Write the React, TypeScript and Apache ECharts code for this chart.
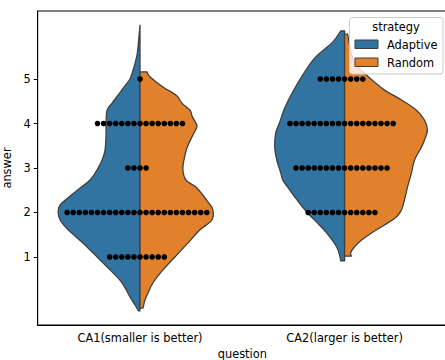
import React, { useEffect, useRef } from 'react';
import * as echarts from 'echarts';

// ---- data ----
const questions = ['CA1(smaller is better)', 'CA2(larger is better)'];
const strategies = ['Adaptive', 'Random'];
const answerTicks = [1, 2, 3, 4, 5];
// number of swarm points per answer level (1..5) for each question
const ca1Counts = [10, 24, 4, 15, 1];
const ca2Counts = [0, 12, 16, 18, 8];

// violin half profiles: [answer value, relative density (max ~1)]
const ca1Adaptive = [
  [6.21, 0], [5.88, 0.016], [5.58, 0.033], [5.38, 0.057], [5.2, 0.085], [5.0, 0.122],
  [4.82, 0.195], [4.64, 0.268], [4.46, 0.341], [4.3, 0.402], [4.01, 0.415], [3.74, 0.415],
  [3.4, 0.427], [3.18, 0.463], [2.96, 0.524], [2.73, 0.61], [2.55, 0.732], [2.33, 0.878],
  [2.17, 0.976], [2.01, 1.0], [1.83, 0.976], [1.61, 0.878], [1.31, 0.695], [1.0, 0.524],
  [0.71, 0.366], [0.42, 0.22], [0.1, 0.122], [-0.08, 0.061], [-0.21, 0.02],
];
const ca1Random = [
  [5.16, 0.085], [5.05, 0.122], [4.82, 0.28], [4.64, 0.44], [4.46, 0.512], [4.3, 0.61],
  [4.15, 0.64], [4.01, 0.683], [3.92, 0.695], [3.74, 0.646], [3.45, 0.573], [3.18, 0.537],
  [2.96, 0.524], [2.73, 0.561], [2.55, 0.695], [2.24, 0.829], [2.06, 0.89], [1.83, 0.878],
  [1.61, 0.732], [1.31, 0.585], [1.0, 0.427], [0.71, 0.28], [0.42, 0.159], [0.19, 0.098],
  [0.03, 0.061], [-0.15, 0.037],
];
const ca2Adaptive = [
  [6.08, 0.049], [5.83, 0.146], [5.47, 0.366], [5.09, 0.512], [4.71, 0.634], [4.35, 0.732],
  [4.03, 0.793], [3.79, 0.841], [3.47, 0.854], [3.18, 0.829], [2.89, 0.78], [2.73, 0.756],
  [2.57, 0.695], [2.35, 0.61], [2.01, 0.463], [1.76, 0.329], [1.54, 0.22], [1.23, 0.098],
  [1.0, 0.055], [0.91, 0.049],
];
const ca2Random = [
  [6.01, 0.037], [5.76, 0.061], [5.54, 0.085], [5.38, 0.122], [5.25, 0.171], [5.09, 0.268],
  [4.93, 0.366], [4.75, 0.488], [4.53, 0.695], [4.3, 0.878], [4.08, 0.976], [3.85, 1.012],
  [3.63, 0.976], [3.47, 0.939], [3.18, 0.854], [2.89, 0.817], [2.57, 0.768], [2.28, 0.732],
  [2.06, 0.695], [1.9, 0.634], [1.72, 0.488], [1.54, 0.329], [1.38, 0.207], [1.23, 0.122],
  [1.09, 0.073], [1.02, 0.085],
];
const adaptiveProfiles = [ca1Adaptive, ca2Adaptive];
const randomProfiles = [ca1Random, ca2Random];
const countsByQuestion = [ca1Counts, ca2Counts];

// ---- styles ----
const COLORS = ['#3274a1', '#e1812c'];
const EDGE = '#3f3f3f';
const FONT = 'DejaVu Sans';
const FS = 11.4;
const DOT_R = 2.8;
const DOT_STEP = 6.07;
const VIOLIN_HALF = 0.4; // fraction of category band

const ViolinHalf = (echarts.graphic as any).extendShape({
  shape: { cx: 0, edge: [] as number[][] },
  buildPath(ctx: any, shape: any) {
    const pts: number[][] = shape.edge;
    if (!pts || !pts.length) return;
    const cx = shape.cx;
    ctx.moveTo(cx, pts[0][1]);
    ctx.lineTo(pts[0][0], pts[0][1]);
    for (let i = 0; i < pts.length - 1; i++) {
      const p0 = pts[i - 1] || pts[i];
      const p1 = pts[i];
      const p2 = pts[i + 1];
      const p3 = pts[i + 2] || p2;
      ctx.bezierCurveTo(
        p1[0] + (p2[0] - p0[0]) / 6, p1[1] + (p2[1] - p0[1]) / 6,
        p2[0] - (p3[0] - p1[0]) / 6, p2[1] - (p3[1] - p1[1]) / 6,
        p2[0], p2[1]
      );
    }
    const last = pts[pts.length - 1];
    ctx.lineTo(cx, last[1]);
    ctx.closePath();
  },
});
(echarts.graphic as any).registerShape('violinHalf', ViolinHalf);

function violinRenderer(profiles: number[][][], side: number, color: string) {
  return (params: any, api: any) => {
    const q = params.dataIndex;
    const prof = profiles[q];
    const band = api.size([1, 0])[0];
    const half = band * VIOLIN_HALF;
    const cx = api.coord([q, 0])[0];
    const edge = prof.map(([v, d]) => {
      const p = api.coord([q, v]);
      return [cx + side * d * half, p[1]];
    });
    return {
      type: 'violinHalf',
      shape: { cx, edge },
      style: { fill: color, stroke: EDGE, lineWidth: 1.3, lineJoin: 'round' },
    };
  };
}

function swarmRenderer(params: any, api: any) {
  const q = api.value(0);
  const v = api.value(1);
  const n = api.value(2);
  const c = api.coord([q, v]);
  const start = -Math.floor(n / 2);
  const children: any[] = [];
  for (let k = 0; k < n; k++) {
    children.push({
      type: 'circle',
      shape: { cx: c[0] + (start + k) * DOT_STEP, cy: c[1], r: DOT_R },
      style: { fill: '#000' },
    });
  }
  return { type: 'group', children };
}

const swarmData: number[][] = [];
countsByQuestion.forEach((counts, q) => {
  counts.forEach((n, i) => {
    if (n > 0) swarmData.push([q, answerTicks[i], n]);
  });
});

export default function App() {
  const ref = useRef<HTMLDivElement>(null);
  useEffect(() => {
    if (!ref.current) return;
    const chart = echarts.init(ref.current, undefined, { renderer: 'svg' });
    const textStyle = { color: '#000', fontSize: FS, fontFamily: FONT };
    chart.setOption({
      animation: false,
      grid: {
        left: 37.7, top: 11, width: 409.2, height: 314,
        containLabel: false,
        outerBoundsMode: 'none',
        show: true, borderColor: '#000', borderWidth: 1, backgroundColor: 'transparent',
      },
      xAxis: {
        type: 'category',
        data: questions,
        boundaryGap: true,
        axisLine: { onZero: false, lineStyle: { color: '#000', width: 1 } },
        axisTick: { alignWithLabel: true, length: 4, lineStyle: { color: '#000', width: 1 } },
        axisLabel: { ...textStyle, margin: 7 },
        splitLine: { show: false },
        name: 'question',
        nameLocation: 'middle',
        nameGap: 23,
        nameTextStyle: textStyle,
      },
      yAxis: {
        type: 'value',
        min: -0.53,
        max: 6.53,
        axisLine: { show: true, onZero: false, lineStyle: { color: '#000', width: 1 } },
        axisTick: { show: true, length: 4, customValues: answerTicks, lineStyle: { color: '#000', width: 1 } },
        axisLabel: { ...textStyle, margin: 7, customValues: answerTicks },
        splitLine: { show: false },
        name: 'answer',
        nameLocation: 'middle',
        nameGap: 20,
        nameTextStyle: textStyle,
      },
      series: [
        {
          type: 'custom',
          name: strategies[0],
          coordinateSystem: 'cartesian2d',
          renderItem: violinRenderer(adaptiveProfiles, -1, COLORS[0]),
          data: questions.map((_, i) => [i, 3]),
          encode: { x: 0, y: 1 },
          z: 2,
        },
        {
          type: 'custom',
          name: strategies[1],
          coordinateSystem: 'cartesian2d',
          renderItem: violinRenderer(randomProfiles, 1, COLORS[1]),
          data: questions.map((_, i) => [i, 3]),
          encode: { x: 0, y: 1 },
          z: 2,
        },
        {
          type: 'custom',
          name: 'swarm',
          coordinateSystem: 'cartesian2d',
          renderItem: swarmRenderer,
          data: swarmData,
          encode: { x: 0, y: 1 },
          z: 3,
        },
      ],
      graphic: [
        {
          type: 'rect', z: 100,
          shape: { x: 349.5, y: 17.5, width: 93.5, height: 56.5, r: 3 },
          style: { fill: 'rgba(255,255,255,0.8)', stroke: '#cccccc', lineWidth: 1 },
        },
        {
          type: 'text', z: 101, x: 396, y: 27,
          style: { text: 'strategy', fill: '#000', fontSize: FS, fontFamily: FONT, align: 'center', verticalAlign: 'middle' },
        },
        {
          type: 'rect', z: 101,
          shape: { x: 355, y: 40, width: 23, height: 8.5 },
          style: { fill: COLORS[0], stroke: EDGE, lineWidth: 1 },
        },
        {
          type: 'text', z: 101, x: 387, y: 44.5,
          style: { text: strategies[0], fill: '#000', fontSize: FS, fontFamily: FONT, align: 'left', verticalAlign: 'middle' },
        },
        {
          type: 'rect', z: 101,
          shape: { x: 355, y: 58, width: 23, height: 8.5 },
          style: { fill: COLORS[1], stroke: EDGE, lineWidth: 1 },
        },
        {
          type: 'text', z: 101, x: 387, y: 62.5,
          style: { text: strategies[1], fill: '#000', fontSize: FS, fontFamily: FONT, align: 'left', verticalAlign: 'middle' },
        },
      ],
    });
    return () => chart.dispose();
  }, []);
  return (
    <div
      ref={ref}
      style={{ position: 'fixed', left: 0, top: 0, width: 445, height: 360, background: '#fff' }}
    />
  );
}
